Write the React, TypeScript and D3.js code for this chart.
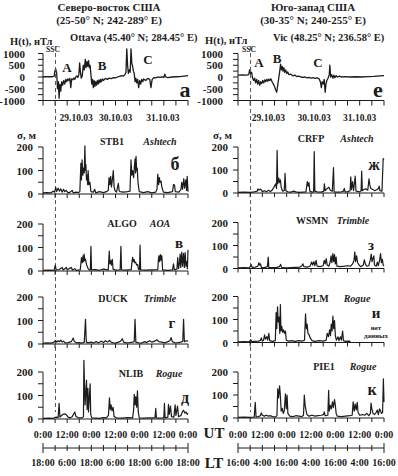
import React from 'react';
import * as d3 from 'd3';

type Pt = [number, number];

const FONT = '"Liberation Serif", "DejaVu Serif", serif';
const INK = '#1c1c1c';

// time axis: hours from 29.10.03 0:00 UT
const hourTicks = d3.range(0, 73, 6);
const utHours = [0, 12, 24, 36, 48, 60, 72];
const utLabels = ['0:00', '12:00', '0:00', '12:00', '0:00', '12:00', '0:00'];
const ltLabelsNE = ['18:00', '6:00', '18:00', '6:00', '18:00', '6:00', '18:00'];
const ltLabelsSW = ['16:00', '4:00', '16:00', '4:00', '16:00', '4:00', '16:00'];
const dateLabels = ['29.10.03', '30.10.03', '31.10.03'];
const dateHoursNE = [16.5, 36, 59.5];
const dateHoursSW = [15, 37.5, 60];
const sscHour = 6.2;

// H(t), nT
const ottava: Pt[] = [[0,10],[2,20],[4,10],[5.5,30],[5.9,250],[6.3,350],[6.8,150],[7.2,-500],[7.6,-200],[8,-900],[8.4,-300],[8.8,-600],[9.3,-200],[9.8,-350],[10.3,-150],[10.8,-300],[11.3,-100],[11.8,-200],[12.3,-80],[12.8,-150],[13.3,-60],[13.8,-450],[14.2,-80],[14.8,-120],[15.3,-40],[15.8,-100],[16.3,0],[16.8,50],[17.3,-20],[17.8,100],[18.2,600],[18.6,200],[19,-50],[19.5,50],[20,500],[20.5,300],[21,750],[21.4,400],[21.8,650],[22.2,450],[22.6,700],[23,400],[23.4,500],[23.8,100],[24.2,-300],[24.6,-100],[25,-450],[25.4,-150],[25.8,-400],[26.2,-200],[26.6,-350],[27,-150],[27.4,-300],[27.8,-120],[28.2,-250],[28.6,-100],[29,-200],[29.5,-80],[30,-150],[31,-60],[32,-100],[33,-50],[34,-70],[35,-30],[36,-40],[37,0],[38,30],[39,60],[40,40],[40.8,120],[41.2,200],[41.6,1200],[42,500],[42.4,150],[42.8,300],[43.3,200],[43.7,1200],[44.1,600],[44.5,450],[44.9,250],[45.3,150],[45.7,-200],[46.1,-50],[46.5,-250],[47,-100],[47.5,-450],[48,-150],[48.5,-300],[49,-100],[49.5,-200],[50,-80],[51,-150],[52,-60],[53,-100],[53.6,-450],[54.2,-100],[55,-30],[56,-40],[57,0],[58,-20],[59,10],[60,-20],[60.5,120],[61,0],[62,-30],[64,0],[66,10],[68,20],[70,40],[72,60]];
const vic: Pt[] = [[0,80],[2,90],[4,80],[5.3,100],[5.7,300],[6.2,150],[6.7,200],[7.2,-50],[7.7,-150],[8.2,-50],[8.7,-250],[9.2,-100],[9.7,-300],[10.2,-150],[10.7,-350],[11.2,-200],[11.7,-280],[12.2,-150],[12.7,-250],[13.2,-120],[13.7,-200],[14.2,-100],[14.7,-180],[15.2,-90],[15.7,-150],[16.2,-80],[16.8,-200],[17.4,-300],[18,-400],[18.6,-550],[19.1,-650],[19.5,-400],[20,-100],[20.5,200],[21,550],[21.4,300],[21.8,450],[22.2,250],[22.6,400],[23,200],[23.5,300],[24,150],[24.5,220],[25,100],[26,120],[27,50],[28,80],[29,20],[30,40],[31,0],[32,-20],[33,0],[34,-40],[35,-20],[36,-50],[37,-30],[38,-60],[39,-40],[40,-80],[40.6,-200],[41.1,-450],[41.5,-200],[42,-300],[42.5,-100],[43,-650],[43.4,-300],[43.8,-150],[44.4,-50],[45,100],[45.3,500],[45.7,0],[46.2,100],[46.8,-50],[47.3,80],[47.8,-30],[48.4,60],[49,0],[50,40],[51,0],[53,20],[55,0],[58,10],[61,0],[64,20],[67,30],[70,50],[72,60]];

// sigma, m
const stb1: Pt[] = [[0,5],[2,6],[4,5],[5,12],[5.8,8],[6.3,28],[6.8,10],[7.5,25],[8.2,12],[8.8,22],[9.5,8],[10.2,20],[10.8,10],[11.5,15],[12.5,5],[13.5,8],[14.5,15],[15,5],[16.5,8],[17.5,6],[18.3,10],[18.8,130],[19.1,60],[19.4,145],[19.8,80],[20.1,110],[20.5,90],[20.8,205],[21.1,100],[21.3,125],[21.6,60],[21.9,80],[22.2,40],[22.4,100],[22.8,40],[23.3,50],[23.8,10],[25,8],[25.7,20],[26.2,5],[28,10],[30,6],[31.5,10],[32.4,15],[32.8,70],[33.2,40],[33.6,75],[34,30],[34.5,65],[34.9,100],[35.3,30],[35.7,15],[36.5,8],[37.4,45],[37.8,15],[38.2,10],[40,8],[42,10],[43.2,12],[43.7,145],[44.1,80],[44.5,100],[45,70],[45.4,120],[45.7,150],[46,90],[46.2,160],[46.5,100],[46.8,110],[47.1,60],[47.3,40],[47.8,10],[50,6],[52,10],[54,5],[56,8],[56.6,20],[57,85],[57.4,40],[57.8,70],[58.1,50],[58.6,55],[59,30],[59.8,8],[62,6],[64.3,10],[64.8,40],[65.3,38],[65.7,10],[67.5,8],[68.5,20],[68.9,50],[69.3,20],[69.9,65],[70.3,25],[70.9,60],[71.3,15],[71.6,75],[72,10]];
const algo: Pt[] = [[0,3],[3,4],[5.5,3],[6.1,25],[6.5,5],[8,6],[9.5,15],[10,4],[11.6,15],[12,5],[13,10],[14.1,15],[14.6,4],[15.8,10],[16.5,3],[18.5,5],[19.1,57],[19.5,35],[19.9,65],[20.2,40],[20.4,72],[20.8,45],[21.1,50],[21.6,28],[22.4,10],[23,5],[23.5,5],[23.8,105],[24.1,5],[26,6],[28,3],[30,8],[32.4,5],[32.9,85],[33.2,30],[33.6,45],[34,25],[34.4,50],[34.8,8],[36,4],[38.3,5],[38.7,105],[39,5],[41,4],[43.8,6],[44.2,40],[44.5,58],[44.8,40],[45.2,50],[45.6,35],[46,38],[46.5,25],[47,28],[47.4,8],[47.9,6],[48.2,110],[48.5,5],[51,4],[54,5],[57,6],[57.3,50],[57.6,65],[57.9,40],[58.3,70],[58.7,45],[59,65],[59.4,5],[62,3],[64.3,5],[64.8,30],[65.2,5],[66.5,8],[66.9,57],[67.3,10],[67.7,30],[68.1,72],[68.4,15],[68.9,80],[69.3,20],[69.8,75],[70.2,15],[70.6,78],[71,20],[71.4,40],[71.7,10],[72,90]];
const duck: Pt[] = [[0,3],[2,5],[4,4],[5.5,8],[6.2,15],[6.8,8],[7.5,14],[8.2,10],[8.8,16],[9.5,9],[10.2,12],[11,5],[12.5,6],[14,10],[14.6,18],[15,25],[15.5,12],[16.5,5],[18,6],[19.5,4],[20.5,8],[21.1,105],[21.5,8],[22.5,5],[24,8],[25,4],[26.5,10],[27.5,5],[29,12],[30,6],[31,14],[32,8],[33,15],[33.8,8],[35,5],[36,4],[37.5,8],[38.5,12],[39.4,22],[40,8],[41.5,5],[43,6],[44.5,8],[45.3,10],[45.7,105],[46.1,8],[47.5,5],[49,4],[50.5,10],[51.5,6],[53,14],[54,8],[55.5,12],[56.5,18],[57.5,10],[59,8],[60.5,5],[62,10],[63,14],[63.6,27],[64.2,10],[65.5,5],[67,6],[68.5,8],[69.4,12],[69.8,105],[70.2,10],[71,14],[72,12]];
const nlib: Pt[] = [[0,3],[3,4],[5,3],[6.5,8],[7.5,6],[8,67],[8.4,8],[9.2,15],[10,20],[10.8,22],[11.6,18],[12.5,8],[13.5,5],[14.5,10],[15.3,22],[15.8,30],[16.3,12],[17.5,5],[19.5,5],[20.1,10],[20.3,250],[20.6,150],[20.9,60],[21.3,120],[21.6,165],[21.9,40],[22.3,130],[22.6,30],[23,90],[23.4,150],[23.7,20],[24.2,5],[26,4],[28,3],[30,6],[31.5,5],[32.5,15],[33,90],[33.4,40],[33.8,60],[34.3,35],[34.8,50],[35.3,10],[36.5,5],[39,4],[42,6],[44.5,5],[45,40],[45.3,105],[45.7,60],[46.1,95],[46.5,50],[46.9,120],[47.3,30],[47.8,5],[50,4],[53,5],[55.6,5],[56,45],[56.3,5],[58,4],[60,5],[60.3,67],[60.6,5],[62,8],[62.3,62],[62.7,20],[63.3,55],[63.8,10],[65,8],[65.6,60],[66,15],[66.8,55],[67.3,10],[68.5,15],[69.2,30],[69.8,37],[70.4,25],[71,30],[71.6,20],[72,25]];
const crfp: Pt[] = [[0,3],[3,4],[6,3],[8,5],[9.5,8],[9.8,18],[10.3,12],[10.9,17],[11.5,14],[12,6],[13,10],[14,5],[15,12],[16,6],[17,14],[18,30],[18.6,40],[19,20],[19.3,185],[19.6,40],[20.1,65],[20.5,45],[20.9,57],[21.3,25],[22,8],[22.8,10],[23.2,85],[23.6,10],[24.5,5],[26,4],[27.5,8],[28.5,5],[30,3],[32,4],[33.5,5],[34.2,50],[34.6,30],[35,45],[35.4,8],[36.5,4],[37.3,5],[37.6,180],[37.9,8],[39,5],[41,4],[42.3,8],[42.6,40],[43,10],[44,20],[44.8,25],[45.5,12],[46.5,8],[47.1,110],[47.4,5],[49,4],[51,5],[52,8],[52.4,20],[52.8,5],[54,5],[55.3,10],[55.6,70],[56,15],[56.5,50],[57,10],[57.8,73],[58.2,8],[60,5],[60.7,10],[61,95],[61.3,10],[62,15],[63,18],[64,12],[64.6,62],[65,35],[65.5,20],[66.5,15],[67.5,10],[68.5,15],[69.3,20],[69.6,30],[70,10],[71,8],[71.6,150],[72,145]];
const wsmn: Pt[] = [[0,3],[3,4],[5.5,3],[6.2,10],[6.5,17],[7,5],[8.5,6],[9.8,10],[10.3,25],[10.7,15],[11.1,20],[11.5,5],[13,4],[14.5,8],[14.9,50],[15.2,5],[17,4],[19,5],[20.5,8],[21,18],[21.5,5],[23.5,3],[26,4],[28.5,5],[30.5,6],[31.5,12],[32,20],[32.5,8],[34,6],[35.5,10],[36.3,28],[36.8,15],[37.4,30],[37.9,12],[38.5,35],[39,10],[40.5,8],[42,12],[42.5,35],[43,20],[43.5,43],[44,15],[44.8,10],[45.5,30],[45.9,55],[46.3,25],[46.8,65],[47.2,30],[47.6,60],[48,20],[48.4,50],[48.8,10],[50.5,8],[52.5,10],[54,12],[55.5,10],[56.5,20],[57.2,35],[57.6,72],[58,30],[58.5,55],[59,25],[59.7,15],[60.5,8],[61.8,15],[62.3,38],[62.8,20],[63.5,10],[64.5,12],[65.3,40],[65.7,63],[66.1,30],[66.6,45],[67,55],[67.3,15],[68.2,10],[68.7,28],[69.2,12],[69.8,35],[70.3,65],[70.7,25],[71.2,40],[71.6,15],[72,10]];
const jplm: Pt[] = [[0,3],[3,4],[5.5,3],[6.3,12],[6.8,4],[8.5,5],[10,6],[11,8],[11.5,20],[12,6],[12.6,10],[13.1,33],[13.5,15],[14.2,25],[14.6,10],[15.2,40],[15.6,8],[17,5],[18.4,8],[18.8,130],[19.1,60],[19.5,155],[19.8,90],[20.2,110],[20.6,40],[20.9,165],[21.2,50],[21.6,70],[22,45],[22.5,55],[22.9,40],[23.4,50],[23.8,10],[25,6],[26.5,8],[28,5],[30,8],[31.5,6],[32.8,10],[33.3,125],[33.7,60],[34.1,80],[34.5,40],[35,35],[35.6,20],[36.5,8],[38,5],[40,8],[42,6],[43.5,10],[44,40],[44.6,25],[45.2,55],[45.6,30],[46,80],[46.4,50],[46.8,115],[47.2,60],[47.6,95],[48,30],[48.5,10],[49.3,25],[49.8,8],[50.5,25],[51,10],[51.6,50],[52,8],[53,5],[54.5,6],[55.5,5]];
const pie1: Pt[] = [[0,3],[3,4],[6,3],[8,4],[8.5,68],[8.9,5],[10,6],[11,10],[11.5,22],[12,12],[13,8],[14,12],[15,8],[16,10],[17,6],[18.5,5],[19.2,10],[19.6,127],[20,87],[20.5,140],[20.9,95],[21.3,30],[21.8,42],[22.3,20],[22.8,30],[23.4,105],[23.8,40],[24.2,100],[24.6,20],[25.5,8],[27,6],[28.5,10],[30,8],[31.5,6],[32.3,12],[32.7,100],[33.1,55],[33.5,35],[34,15],[35,8],[36.5,12],[38,8],[39.5,10],[41,12],[42.2,15],[42.5,27],[43,10],[44.3,12],[44.7,120],[45,30],[45.5,55],[46,40],[46.6,70],[47,45],[47.6,80],[48,55],[48.4,20],[49,8],[51,6],[53,8],[55,10],[56.3,12],[56.8,70],[57.3,30],[57.8,60],[58.3,35],[58.8,68],[59.2,25],[60,12],[61.5,15],[62.5,12],[63.5,20],[64.5,10],[65.3,20],[65.6,65],[66,40],[66.6,20],[67.3,15],[68.2,25],[68.7,35],[69.2,15],[69.8,40],[70.3,30],[70.8,20],[71.3,25],[71.7,170],[72,70]];

const columns = [
  { x0: 43, x1: 188, title: 'Северо-восток США', coords: '(25-50° N; 242-289° E)', obs: 'Ottava (45.40° N; 284.45° E)', h: ottava, hLetter: 'а', abc: [[67, 72, 'A'], [102, 70, 'B'], [148, 64, 'C']], dateHours: dateHoursNE, lt: ltLabelsNE },
  { x0: 238, x1: 384, title: 'Юго-запад США', coords: '(30-35° N; 240-255° E)', obs: 'Vic (48.25° N; 236.58° E)', h: vic, hLetter: 'е', abc: [[259, 67, 'A'], [277, 63, 'B'], [318, 67, 'C']], dateHours: dateHoursSW, lt: ltLabelsSW },
];

const sigmaPanels = [
  { col: 0, zero: 194, data: stb1, site: 'STB1', rcv: 'Ashtech', siteX: 112, rcvX: 160, labY: 145, letter: 'б', lx: 175, ly: 170, lsize: 18 },
  { col: 0, zero: 271, data: algo, site: 'ALGO', rcv: 'AOA', siteX: 122, rcvX: 160, labY: 227, letter: 'в', lx: 179, ly: 248, lsize: 15 },
  { col: 0, zero: 344, data: duck, site: 'DUCK', rcv: 'Trimble', siteX: 113, rcvX: 160, labY: 302, letter: 'г', lx: 172, ly: 328, lsize: 15 },
  { col: 0, zero: 419, data: nlib, site: 'NLIB', rcv: 'Rogue', siteX: 131, rcvX: 169, labY: 377, letter: 'д', lx: 185, ly: 403, lsize: 16 },
  { col: 1, zero: 193, data: crfp, site: 'CRFP', rcv: 'Ashtech', siteX: 311, rcvX: 357, labY: 142, letter: 'ж', lx: 374, ly: 170, lsize: 16 },
  { col: 1, zero: 268.5, data: wsmn, site: 'WSMN', rcv: 'Trimble', siteX: 312, rcvX: 353, labY: 224, letter: 'з', lx: 371, ly: 250, lsize: 15 },
  { col: 1, zero: 342.5, data: jplm, site: 'JPLM', rcv: 'Rogue', siteX: 315, rcvX: 357, labY: 302, letter: 'и', lx: 376, ly: 318, lsize: 15 },
  { col: 1, zero: 418, data: pie1, site: 'PIE1', rcv: 'Rogue', siteX: 324, rcvX: 363, labY: 370, letter: 'к', lx: 372, ly: 395, lsize: 16 },
];

const bold = { fontFamily: FONT, fontWeight: 700 } as const;

const App: React.FC = () => {
  const xs = columns.map(c => d3.scaleLinear().domain([0, 72]).range([c.x0, c.x1]));
  const hY = d3.scaleLinear().domain([-1000, 1000]).range([100.5, 53.5]);
  const ltY = 448;

  return (
    <svg width={398} height={476} style={{ position: 'absolute', left: 0, top: 0, background: '#fff' }}>
      {columns.map((c, ci) => {
        const x = xs[ci];
        const cx = ci === 0 ? 109 : 313;
        const hLine = d3.line<Pt>().x(d => x(d[0])).y(d => hY(d[1]));
        const sx = x(sscHour);
        return (
          <g key={ci}>
            {/* headers */}
            <text x={cx} y={11} textAnchor="middle" fontSize={11} {...bold} fill={INK}>{c.title}</text>
            <text x={cx} y={24} textAnchor="middle" fontSize={11} {...bold} fill={INK}>{c.coords}</text>
            <text x={ci === 0 ? 10 : 205} y={ci === 0 ? 45 : 44} fontSize={10.5} {...bold} fill={INK}>H(t), нТл</text>
            <text x={ci === 0 ? 70 : 273} y={41} fontSize={10.5} {...bold} fill={INK}>{c.obs}</text>
            <text x={ci === 0 ? 53 : 249} y={52} textAnchor="middle" fontSize={7.5} {...bold} fill={INK}>SSC</text>

            {/* H(t) axes */}
            <line x1={c.x0} x2={c.x0} y1={hY(-1000)} y2={hY(1000)} stroke={INK} />
            {d3.range(-1000, 1001, 250).map(v => (
              <line key={v} x1={c.x0 - 5} x2={c.x0} y1={hY(v)} y2={hY(v)} stroke={INK} />
            ))}
            {[-1000, -500, 0, 500, 1000].map(v => (
              <text key={v} x={c.x0 - (ci === 0 ? 18 : 15)} y={hY(v) + 4} textAnchor="end" fontSize={11} {...bold} fill={INK}>{v}</text>
            ))}
            <line x1={c.x0} x2={c.x1} y1={hY(-1000)} y2={hY(-1000)} stroke={INK} />
            {hourTicks.map(h => (
              <line key={h} x1={x(h)} x2={x(h)} y1={hY(-1000)} y2={hY(-1000) + 5} stroke={INK} />
            ))}
            <path d={hLine(c.h) || ''} fill="none" stroke={INK} strokeWidth={1.3} strokeLinejoin="round" />
            {c.abc.map(([ax, ay, t]) => (
              <text key={t as string} x={ax as number} y={ay as number} textAnchor="middle" fontSize={13} {...bold} fill={INK}>{t}</text>
            ))}
            <text x={ci === 0 ? 185 : 378} y={97} textAnchor="middle" fontSize={22} {...bold} fill={INK}>{c.hLetter}</text>
            {dateLabels.map((t, i) => (
              <text key={t} x={x(c.dateHours[i])} y={121} textAnchor="middle" fontSize={9.5} {...bold} fill={INK}>{t}</text>
            ))}

            <text x={ci === 0 ? 17 : 213} y={139} fontSize={11} {...bold} fill={INK}>σ, м</text>

            {/* SSC dashed line */}
            <line x1={sx} x2={sx} y1={46} y2={412} stroke="#555" strokeDasharray="4,3" strokeWidth={1} />

            {/* UT / LT labels */}
            {utHours.map((h, i) => (
              <text key={'ut' + i} x={x(h)} y={438} textAnchor="middle" fontSize={10} {...bold} fill={INK}>{utLabels[i]}</text>
            ))}
            <line x1={c.x0} x2={c.x1} y1={ltY} y2={ltY} stroke={INK} />
            {hourTicks.map(h => {
              const big = h === 0 || h === 72;
              return <line key={'lt' + h} x1={x(h)} x2={x(h)} y1={ltY - (big ? 5 : 3)} y2={ltY + (big ? 5 : 3)} stroke={INK} />;
            })}
            {utHours.map((h, i) => (
              <text key={'lt' + i} x={x(h)} y={466} textAnchor="middle" fontSize={10} {...bold} fill={INK}>{c.lt[i]}</text>
            ))}
          </g>
        );
      })}

      {sigmaPanels.map(p => {
        const c = columns[p.col];
        const x = xs[p.col];
        const h200 = p.col === 0 ? 47 : 46;
        const y = d3.scaleLinear().domain([0, 200]).range([p.zero, p.zero - h200]);
        const line = d3.line<Pt>().x(d => x(d[0])).y(d => y(d[1]));
        return (
          <g key={p.site}>
            <line x1={c.x0} x2={c.x0} y1={y(0)} y2={y(200)} stroke={INK} />
            {[0, 50, 100, 150, 200].map(v => (
              <line key={v} x1={c.x0 - 5} x2={c.x0} y1={y(v)} y2={y(v)} stroke={INK} />
            ))}
            {[0, 100, 200].map(v => (
              <text key={v} x={c.x0 - 10} y={y(v) + 4} textAnchor="end" fontSize={11} {...bold} fill={INK}>{v}</text>
            ))}
            <line x1={c.x0} x2={c.x1} y1={y(0)} y2={y(0)} stroke={INK} />
            {hourTicks.map(h => (
              <line key={h} x1={x(h)} x2={x(h)} y1={y(0)} y2={y(0) + 4} stroke={INK} />
            ))}
            <path d={line(p.data) || ''} fill="none" stroke={INK} strokeWidth={1.2} strokeLinejoin="round" />
            <text x={p.siteX} y={p.labY} textAnchor="middle" fontSize={10} {...bold} fill={INK}>{p.site}</text>
            <text x={p.rcvX} y={p.labY} textAnchor="middle" fontSize={10} {...bold} fontStyle="italic" fill={INK}>{p.rcv}</text>
            <text x={p.lx} y={p.ly} textAnchor="middle" fontSize={p.lsize} {...bold} fill={INK}>{p.letter}</text>
          </g>
        );
      })}

      <text x={376} y={330} textAnchor="middle" fontSize={7} {...bold} fill={INK}>нет</text>
      <text x={376} y={338} textAnchor="middle" fontSize={7} {...bold} fill={INK}>данных</text>

      <text x={214} y={438} textAnchor="middle" fontSize={15} {...bold} fill={INK}>UT</text>
      <text x={214} y={468} textAnchor="middle" fontSize={15} {...bold} fill={INK}>LT</text>
    </svg>
  );
};

export default App;
